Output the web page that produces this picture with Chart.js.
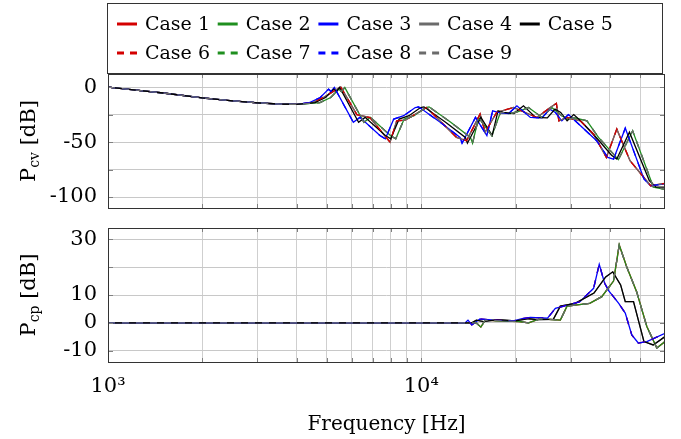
<!DOCTYPE html>
<html>
<head>
<meta charset="utf-8">
<script src="https://cdn.jsdelivr.net/npm/chart.js@4.4.1/dist/chart.umd.min.js"></script>
<style>
  body { margin: 0; background: #fff; }
  #wrap { position: relative; width: 681px; height: 439px; }
  #topBox { position: absolute; left: 0; top: 0; }
  #botBox { position: absolute; left: 0; top: 215px; }
</style>
</head>
<body>
<div id="wrap">
  <div id="topBox"><canvas id="cvChart" width="681" height="215"></canvas></div>
  <div id="botBox"><canvas id="cpChart" width="681" height="224"></canvas></div>
</div>
<script>
const caseNames = ['Case 1', 'Case 2', 'Case 3', 'Case 4', 'Case 5', 'Case 6', 'Case 7', 'Case 8', 'Case 9'];
const caseColors = ['#d40000', '#1f8f1f', '#0000ff', '#6b6b6b', '#000000', '#d40000', '#1f8f1f', '#0000ff', '#6b6b6b'];
const caseDashed = [false, false, false, false, false, true, true, true, true];

// axis ticks
const freqTicks = [1000, 2000, 3000, 4000, 5000, 6000, 7000, 8000, 9000, 10000, 20000, 30000, 40000, 50000];
const cvTicks = [-100, -75, -50, -25, 0];
const cvLabelled = [-100, -50, 0];
const cpTicks = [-10, 0, 10, 20, 30];
const cpLabelled = [-10, 0, 10, 30];

// P_cv, common low frequency part
const lowFreq = [1000, 1250, 1500, 2000, 2500, 3000, 3500, 4000];
const lowCv = [0, -3, -5.3, -9.8, -12.4, -14.2, -15.3, -15.7];

// P_cv, blue group
const cvFreqA = lowFreq.concat([4400, 4760, 5060, 5150, 5280, 6070, 6370, 7380, 7680, 8170, 8790, 9570, 9810, 11500, 13300,
  13500, 14900, 16200, 16900, 17600, 19000, 20200, 22300, 24300, 25700, 26800, 28100, 29500, 31000, 36300,
  39400, 41100, 44800, 51400, 54000, 60000]);
const cvA = lowCv.concat([-14, -9.4, -1.8, -3.9, -0.3, -32, -27.5, -44, -47, -29, -26, -18.5, -17.9, -32, -45.7,
  -51, -27.5, -44, -21.5, -23, -24, -17, -27.5, -28, -20, -23, -30.6, -25, -30.6, -48.7,
  -64, -65.5, -37.3, -83.6, -89.7, -88]);

// P_cv, black
const cvFreqB = lowFreq.concat([4580, 4950, 5260, 5360, 5490, 6310, 6620, 7680, 7990, 8500, 9140, 9950, 10200, 11960, 13830,
  14040, 15500, 16850, 17580, 18300, 19760, 21200, 23190, 25270, 26730, 27870, 29220, 30680, 32240, 36500,
  40500, 42100, 46200, 53460, 56160, 60000]);
const cvB = lowCv.concat([-14, -9.4, -1.8, -3.9, -0.3, -32, -27.5, -44, -47, -29, -26, -18.5, -17.9, -32, -45.7,
  -51, -27.5, -44, -21.5, -23, -24, -17, -27.5, -28, -20, -23, -30.6, -25, -30.6, -47,
  -62, -65.5, -41, -85, -91, -91]);

// P_cv, green group
const cvFreqC = lowFreq.concat([4750, 5140, 5460, 5560, 5700, 6560, 6880, 7970, 8290, 8820, 9490, 10340, 10590, 12420, 14360,
  14580, 15250, 16800, 17900, 19200, 20500, 22000, 24300, 26100, 27800, 29200, 31000, 33800, 36800, 42600,
  47300, 55100, 60000]);
const cvC = lowCv.concat([-14, -9.4, -1.8, -3.9, -0.3, -32, -27.5, -44, -47, -29, -26, -18.5, -17.9, -32, -45.7,
  -51, -27.6, -44.2, -23, -24, -22, -18.5, -27.6, -18.5, -25, -29, -28, -30.6, -45.7, -66,
  -39.7, -91, -93]);

// P_cv, red/grey group
const cvFreqD = lowFreq.concat([4500, 4900, 5300, 5530, 6230, 6860, 7950, 8350, 8900, 10400, 12960, 13950, 15410, 16000,
  17400, 19700, 23400, 25800, 27000, 27500, 29200, 32200, 35500, 39000, 42100, 46400, 54000, 60000]);
const cvD = lowCv.concat([-14, -9, -3, 0.3, -25, -27.6, -50, -30.6, -30, -18.5, -45.7, -48.8, -24.5, -41,
  -23, -18.5, -27.6, -18.5, -14.8, -30.6, -27.6, -30.6, -42.7, -64, -38.2, -67, -89.7, -87.6]);

// P_cp curves
const cpFreqA = [1000, 13800, 14100, 14500, 15400, 17000, 19700, 21000, 22300, 25300, 26800, 28500, 32100, 35500, 37000,
  38500, 39700, 42700, 44800, 47000, 49300, 52500, 60000];
const cpA = [0, 0, 1, -0.7, 1.4, 1, 0.7, 1.5, 2, 1.7, 5.2, 6, 7.6, 12.4, 21,
  14.2, 11.5, 7, 3.5, -4.3, -7.2, -6.7, -3.7];

const cpFreqB = [1000, 14500, 15000, 15800, 17500, 20000, 22000, 23500, 26400, 27800, 31000, 35600, 38800, 40870, 43300,
  44800, 47600, 51400, 55000, 60000];
const cpB = [0, 0, 1, 0.5, 1.2, 0.7, 1.5, 1.2, 1.3, 6, 7, 10.7, 16.5, 18.3, 13.6,
  7.6, 7.6, -6.7, -7.9, -4.9];

const cpFreqC = [1000, 15000, 15500, 16000, 17000, 20500, 22000, 24000, 27800, 29200, 34500, 37700, 41100, 42860, 45300,
  48700, 52500, 56500, 60000];
const cpC = [0, 0, -1.5, 1, 0.8, 0.5, 0, 1.5, 1, 6, 7, 9.4, 15, 27.9, 20,
  11.2, -1.3, -9, -6.7];

// which curve each case follows
const cvCurves = { A: [cvFreqA, cvA], B: [cvFreqB, cvB], C: [cvFreqC, cvC], D: [cvFreqD, cvD] };
const cpCurves = { A: [cpFreqA, cpA], B: [cpFreqB, cpB], C: [cpFreqC, cpC] };
const cvCaseCurve = ['D', 'C', 'A', 'D', 'B', 'D', 'C', 'A', 'C'];
const cpCaseCurve = ['C', 'C', 'A', 'B', 'B', 'A', 'C', 'A', 'C'];

const FONT = 'DejaVu Serif';

function makeSets(curves, caseCurve) {
  return caseNames.map((name, i) => {
    const [fx, fy] = curves[caseCurve[i]];
    return {
      label: name,
      data: fx.map((f, k) => ({ x: f, y: fy[k] })),
      borderColor: caseColors[i],
      borderWidth: 1.3,
      borderDash: caseDashed[i] ? [7, 7] : [],
      pointRadius: 0,
      tension: 0,
      fill: false,
      order: 9 - i // later cases on top
    };
  });
}

function freqAxis(showLabels) {
  return {
    type: 'logarithmic',
    min: 1000,
    max: 60000,
    afterBuildTicks: s => { s.ticks = freqTicks.map(v => ({ value: v })); },
    afterFit: s => {
      s.height = showLabels ? 77 : 0;
      s.paddingLeft = 0; s.paddingRight = 0;
    },
    ticks: {
      display: showLabels,
      autoSkip: false,
      maxRotation: 0,
      padding: 12,
      color: '#000',
      font: { family: FONT, size: 21 },
      callback: v => v === 1000 ? '10³' : (v === 10000 ? '10⁴' : '')
    },
    grid: { color: '#cfcfcf', drawTicks: false },
    border: { display: false },
    title: {
      display: showLabels,
      text: 'Frequency [Hz]',
      color: '#000',
      font: { family: FONT, size: 20 },
      padding: { top: 0, bottom: 2 }
    }
  };
}

function levelAxis(min, max, ticksArr, labelled) {
  return {
    min: min,
    max: max,
    afterBuildTicks: s => { s.ticks = ticksArr.map(v => ({ value: v })); },
    afterFit: s => {
      s.width = 108;
      s.paddingTop = 0; s.paddingBottom = 0;
    },
    ticks: {
      padding: 11,
      color: '#000',
      font: { family: FONT, size: 21 },
      callback: v => labelled.includes(v) ? String(v) : ''
    },
    grid: { color: '#c8c8c8', drawTicks: false },
    border: { display: false }
  };
}

// box round the plot, with small inner tick marks
const framePlugin = {
  id: 'frame',
  afterDatasetsDraw(chart) {
    const { ctx, chartArea: a, scales } = chart;
    ctx.save();
    ctx.strokeStyle = '#808080';
    ctx.lineWidth = 1;
    ctx.beginPath();
    scales.x.ticks.forEach(t => {
      const px = Math.round(scales.x.getPixelForValue(t.value)) + 0.5;
      ctx.moveTo(px, a.top); ctx.lineTo(px, a.top + 4);
      ctx.moveTo(px, a.bottom); ctx.lineTo(px, a.bottom - 4);
    });
    scales.y.ticks.forEach(t => {
      const py = Math.round(scales.y.getPixelForValue(t.value)) + 0.5;
      ctx.moveTo(a.left, py); ctx.lineTo(a.left + 5, py);
      ctx.moveTo(a.right, py); ctx.lineTo(a.right - 5, py);
    });
    ctx.stroke();
    ctx.strokeStyle = '#333';
    ctx.strokeRect(a.left + 0.5, a.top + 0.5, a.right - a.left - 1, a.bottom - a.top);
    ctx.restore();
  }
};

// y title with a subscript
function yTitlePlugin(sub) {
  return {
    id: 'yTitle',
    afterDraw(chart) {
      const { ctx, chartArea: a } = chart;
      const big = '21px "' + FONT + '"', small = '14px "' + FONT + '"';
      ctx.save();
      ctx.translate(28, (a.top + a.bottom) / 2);
      ctx.rotate(-Math.PI / 2);
      ctx.fillStyle = '#000';
      ctx.textBaseline = 'alphabetic';
      ctx.font = big;
      const wP = ctx.measureText('P').width, wU = ctx.measureText(' [dB]').width;
      ctx.font = small;
      const wS = ctx.measureText(sub).width;
      let x = -(wP + wS + wU) / 2;
      const base = 7;
      ctx.font = big; ctx.fillText('P', x, base); x += wP;
      ctx.font = small; ctx.fillText(sub, x, base + 4); x += wS;
      ctx.font = big; ctx.fillText(' [dB]', x, base);
      ctx.restore();
    }
  };
}

// boxed legend on top
const legendPlugin = {
  id: 'caseLegend',
  afterDraw(chart) {
    const ctx = chart.ctx;
    ctx.save();
    ctx.strokeStyle = '#333';
    ctx.lineWidth = 1;
    ctx.strokeRect(107.5, 3.5, 555, 70);
    ctx.font = '19px "' + FONT + '"';
    ctx.textBaseline = 'middle';
    ctx.fillStyle = '#000';
    caseNames.forEach((name, i) => {
      const x = 117 + (i % 5) * 100.7;
      const y = 24 + Math.floor(i / 5) * 29;
      ctx.strokeStyle = caseColors[i];
      ctx.lineWidth = 3;
      ctx.setLineDash(caseDashed[i] ? [7, 6] : []);
      ctx.beginPath();
      ctx.moveTo(x, y);
      ctx.lineTo(x + 20, y);
      ctx.stroke();
      ctx.setLineDash([]);
      ctx.fillText(name, x + 28, y + 1);
    });
    ctx.restore();
  }
};

const common = {
  responsive: false,
  animation: false,
  events: [],
  plugins: { legend: { display: false }, tooltip: { enabled: false } }
};

new Chart(document.getElementById('cvChart'), {
  type: 'line',
  data: { datasets: makeSets(cvCurves, cvCaseCurve) },
  options: Object.assign({}, common, {
    layout: { padding: { top: 74, right: 16, bottom: 7, left: 0 } },
    scales: { x: freqAxis(false), y: levelAxis(-110, 12, cvTicks, cvLabelled) }
  }),
  plugins: [framePlugin, yTitlePlugin('cv'), legendPlugin]
});

new Chart(document.getElementById('cpChart'), {
  type: 'line',
  data: { datasets: makeSets(cpCurves, cpCaseCurve) },
  options: Object.assign({}, common, {
    layout: { padding: { top: 13, right: 16, bottom: 0, left: 0 } },
    scales: { x: freqAxis(true), y: levelAxis(-14, 34, cpTicks, cpLabelled) }
  }),
  plugins: [framePlugin, yTitlePlugin('cp')]
});
</script>
</body>
</html>
